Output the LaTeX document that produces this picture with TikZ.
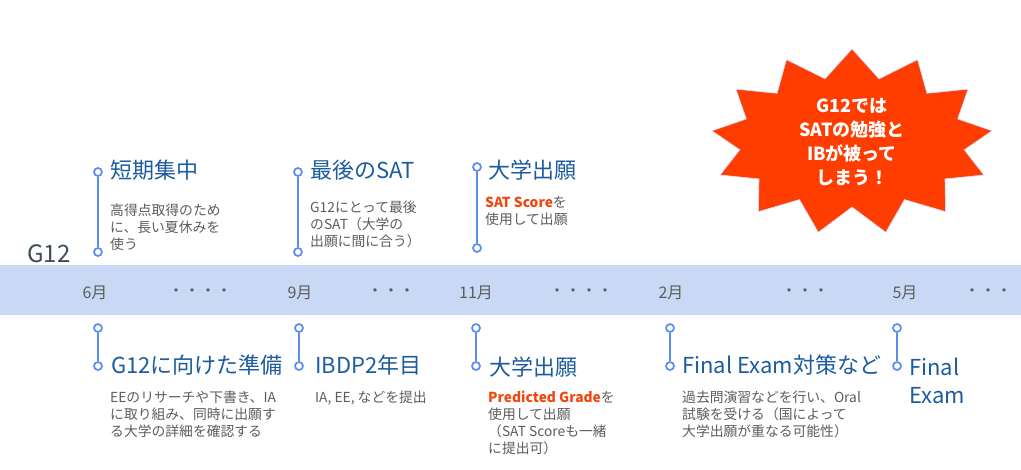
\documentclass[tikz,border=0pt]{standalone}
\usepackage{fontspec}
\setmainfont{Noto Sans CJK JP}
\usetikzlibrary{shapes.symbols}
\definecolor{bandblue}{HTML}{C9D9F5}
\definecolor{stemblue}{HTML}{5A8CF0}
\definecolor{titleblue}{HTML}{1C5C9E}
\definecolor{bodygray}{HTML}{5C5C5C}
\definecolor{labelgray}{HTML}{3E4E58}
\definecolor{hotred}{HTML}{FF3D00}
\definecolor{keyorange}{HTML}{F2460F}
\newcommand{\hl}[1]{{\bfseries\color{keyorange}#1}}
\tikzset{
  knob/.style  = {circle, draw=stemblue, fill=white, line width=1.7pt,
                  inner sep=0pt, minimum size=8pt},
  stem/.style  = {stemblue, line width=2.2pt},
  ttl/.style   = {anchor=west, inner sep=0pt, align=left, text=titleblue,
                  font=\fontsize{22}{28}\selectfont},
  desc/.style  = {anchor=north west, inner sep=0pt, align=left, text=bodygray,
                  font=\fontsize{13.8}{16.8}\selectfont},
  month/.style = {inner sep=0pt, text=bodygray, font=\fontsize{16}{18}\selectfont},
  burst/.style = {starburst, starburst points=13, starburst point height=28pt,
                  random starburst=0, fill=hotred, draw=blue!15, line width=0.6pt,
                  minimum width=282pt, minimum height=186pt, inner sep=0pt,
                  text=white, align=center,
                  font=\bfseries\fontsize{18}{24}\selectfont}
}

\begin{document}
\begin{tikzpicture}[x=1pt,y=-1pt]
  \useasboundingbox (0,0) rectangle (1021,469);
  % band
  \fill[bandblue] (0,265) rectangle (1021,315);
  \node[inner sep=0pt, text=labelgray, font=\fontsize{24}{28}\selectfont] (grade) at (49,254) {G12};

  % months on the band
  \node[month] (m6)  at (95,293)  {6月};
  \node[month] (d1)  at (200,293) {・・・・};
  \node[month] (m9)  at (300,293) {9月};
  \node[month] (d2)  at (391,293) {・・・};
  \node[month] (m11) at (476,293) {11月};
  \node[month] (d3)  at (581,293) {・・・・};
  \node[month] (m2)  at (671,293) {2月};
  \node[month] (d4)  at (805,293) {・・・};
  \node[month] (m5)  at (905,293) {5月};
  \node[month] (d5)  at (988,293) {・・・};

  % above the band
  \node[knob] (u1t) at (98,172) {};
  \node[knob] (u1b) at (98,252) {};
  \draw[stem] (u1t) -- (u1b);
  \node[ttl] (u1) at (110,170) {短期集中};
  \node[desc] (u1d) at (110,204) {高得点取得のため\\に、長い夏休みを\\使う};

  \node[knob] (u2t) at (298,172) {};
  \node[knob] (u2b) at (298,252) {};
  \draw[stem] (u2t) -- (u2b);
  \node[ttl] (u2) at (310,170) {最後のSAT};
  \node[desc] (u2d) at (310,201) {G12にとって最後\\のSAT（大学の\\出願に間に合う）};

  \node[knob] (u3t) at (477,167) {};
  \node[knob] (u3b) at (477,248) {};
  \draw[stem] (u3t) -- (u3b);
  \node[ttl] (u3) at (488,170) {大学出願};
  \node[desc] (u3d) at (485,196) {\hl{SAT Score}を\\使用して出願};

  % below the band
  \node[knob] (l1t) at (98,328) {};
  \node[knob] (l1b) at (98,366) {};
  \draw[stem] (l1t) -- (l1b);
  \node[ttl] (l1) at (111,365) {G12に向けた準備};
  \node[desc] (l1d) at (110,391) {EEのリサーチや下書き、IA\\に取り組み、同時に出願す\\る大学の詳細を確認する};

  \node[knob] (l2t) at (299,328) {};
  \node[knob] (l2b) at (299,366) {};
  \draw[stem] (l2t) -- (l2b);
  \node[ttl] (l2) at (315,365) {IBDP2年目};
  \node[desc] (l2d) at (315,391) {IA, EE, などを提出};

  \node[knob] (l3t) at (476,328) {};
  \node[knob] (l3b) at (476,366) {};
  \draw[stem] (l3t) -- (l3b);
  \node[ttl] (l3) at (489,367) {大学出願};
  \node[desc] (l3d) at (488,391) {\hl{Predicted Grade}を\\使用して出願\\（SAT Scoreも一緒\\に提出可）};

  \node[knob] (l4t) at (670,328) {};
  \node[knob] (l4b) at (670,366) {};
  \draw[stem] (l4t) -- (l4b);
  \node[ttl] (l4) at (682,365) {Final Exam対策など};
  \node[desc] (l4d) at (682,391) {過去問演習などを行い、Oral\\試験を受ける（国によって\\大学出願が重なる可能性）};

  \node[knob] (l5t) at (897,328) {};
  \node[knob] (l5b) at (897,366) {};
  \draw[stem] (l5t) -- (l5b);
  \node[ttl] (l5) at (909,381) {Final\\Exam};

  % the warning burst
  \node[burst] (warn) at (852,142) {G12では\\SATの勉強と\\IBが被って\\しまう！};
\end{tikzpicture}
\end{document}
